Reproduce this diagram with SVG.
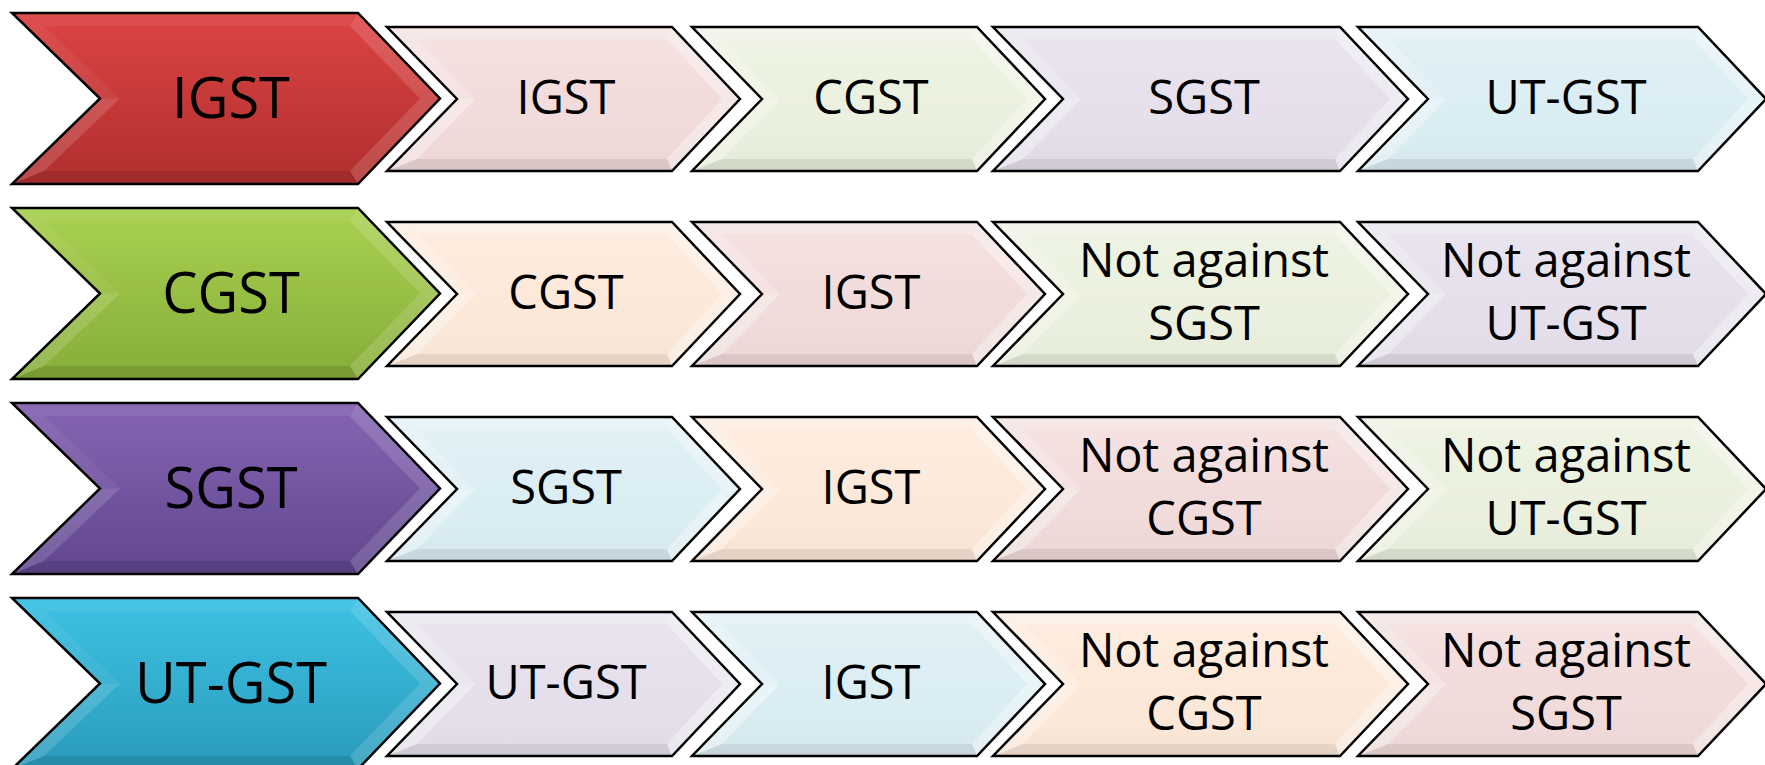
<svg xmlns="http://www.w3.org/2000/svg" xmlns:xlink="http://www.w3.org/1999/xlink" width="1765" height="765" viewBox="0 0 1765 765">
<style>
.edge{fill:none;stroke:#000;stroke-width:2.5;stroke-linejoin:miter}
.pink{fill:#F2DCDB}.green{fill:#EBF1DE}.lav{fill:#E5E0EC}.blue{fill:#DBEEF4}.peach{fill:#FDE9D9}
.lt1{fill:#fff;fill-opacity:.08}.lt2{fill:#fff;fill-opacity:.22}.lt3{fill:#fff;fill-opacity:.35}.dk{fill:#000;fill-opacity:.07}
.bl1{fill:#fff;fill-opacity:.06}.bl2{fill:#fff;fill-opacity:.14}.bdk{fill:#000;fill-opacity:.1}
.tb{font-family:'Open Sans','Noto Sans',sans-serif;font-size:56px;fill:#000;text-anchor:middle}
.ts{font-family:'Open Sans','Noto Sans',sans-serif;font-size:47px;fill:#000;text-anchor:middle}
</style>
<defs>
<linearGradient id="gRed" x1="0" y1="0" x2="0" y2="1"><stop offset="0" stop-color="#DC4443"/><stop offset="1" stop-color="#B02F2E"/></linearGradient>
<linearGradient id="gGreen" x1="0" y1="0" x2="0" y2="1"><stop offset="0" stop-color="#A9D150"/><stop offset="1" stop-color="#86AD38"/></linearGradient>
<linearGradient id="gPurple" x1="0" y1="0" x2="0" y2="1"><stop offset="0" stop-color="#8565B3"/><stop offset="1" stop-color="#61468E"/></linearGradient>
<linearGradient id="gCyan" x1="0" y1="0" x2="0" y2="1"><stop offset="0" stop-color="#3DC2E5"/><stop offset="1" stop-color="#2A9BBB"/></linearGradient>
<linearGradient id="gShade" x1="0" y1="0" x2="0" y2="1"><stop offset="0" stop-color="#fff" stop-opacity=".2"/><stop offset=".5" stop-color="#fff" stop-opacity="0"/><stop offset="1" stop-color="#000" stop-opacity=".03"/></linearGradient>
<!-- big chevron -->
<polygon id="B" points="0,0 346,0 428,85.5 346,171 0,171 88,85.5"/>
<g id="Bbev">
<polygon class="bl1" points="0,0 346,0 338,13 32,13"/>
<polygon class="bl2" points="346,0 428,85.5 408,85.5 338,13"/>
<polygon class="bl2" points="428,85.5 346,171 338,158 408,85.5"/>
<polygon class="bdk" points="346,171 0,171 32,158 338,158"/>
<polygon class="bl2" points="0,171 88,85.5 108,85.5 32,158"/>
<polygon class="bl1" points="88,85.5 0,0 32,13 108,85.5"/>
</g>
<!-- small chevrons -->
<polygon id="S1" points="0,0 285,0 353,72 285,144 0,144 70,72"/>
<g id="S1bev">
<polygon fill="url(#gShade)" points="0,0 285,0 353,72 285,144 0,144 70,72"/>
<polygon class="lt2" points="0,0 285,0 280,12 30,12"/>
<polygon class="lt3" points="285,0 353,72 335,72 280,12"/>
<polygon class="lt3" points="353,72 285,144 280,132 335,72"/>
<polygon class="dk" points="285,144 0,144 30,132 280,132"/>
<polygon class="lt3" points="0,144 70,72 88,72 30,132"/>
<polygon class="lt2" points="70,72 0,0 30,12 88,72"/>
</g>
<polygon id="S3" points="0,0 347,0 415,72 347,144 0,144 70,72"/>
<g id="S3bev">
<polygon fill="url(#gShade)" points="0,0 347,0 415,72 347,144 0,144 70,72"/>
<polygon class="lt2" points="0,0 347,0 342,12 30,12"/>
<polygon class="lt3" points="347,0 415,72 397,72 342,12"/>
<polygon class="lt3" points="415,72 347,144 342,132 397,72"/>
<polygon class="dk" points="347,144 0,144 30,132 342,132"/>
<polygon class="lt3" points="0,144 70,72 88,72 30,132"/>
<polygon class="lt2" points="70,72 0,0 30,12 88,72"/>
</g>
<polygon id="S4" points="0,0 340,0 408,72 340,144 0,144 70,72"/>
<g id="S4bev">
<polygon fill="url(#gShade)" points="0,0 340,0 408,72 340,144 0,144 70,72"/>
<polygon class="lt2" points="0,0 340,0 335,12 30,12"/>
<polygon class="lt3" points="340,0 408,72 390,72 335,12"/>
<polygon class="lt3" points="408,72 340,144 335,132 390,72"/>
<polygon class="dk" points="340,144 0,144 30,132 335,132"/>
<polygon class="lt3" points="0,144 70,72 88,72 30,132"/>
<polygon class="lt2" points="70,72 0,0 30,12 88,72"/>
</g>
</defs>
<rect width="1765" height="765" fill="#fff"/>
<g id="connectors"/>

<!-- Row 1 -->
<g id="r1-main"><use href="#B" x="12" y="13" fill="url(#gRed)"/><use href="#Bbev" x="12" y="13"/><use href="#B" x="12" y="13" class="edge"/><text class="tb" x="231" y="118">IGST</text></g>
<g id="r1-c1"><use href="#S1" x="387" y="27" class="pink"/><use href="#S1bev" x="387" y="27"/><use href="#S1" x="387" y="27" class="edge"/><text class="ts" x="566" y="114">IGST</text></g>
<g id="r1-c2"><use href="#S1" x="692" y="27" class="green"/><use href="#S1bev" x="692" y="27"/><use href="#S1" x="692" y="27" class="edge"/><text class="ts" x="871" y="114">CGST</text></g>
<g id="r1-c3"><use href="#S3" x="993" y="27" class="lav"/><use href="#S3bev" x="993" y="27"/><use href="#S3" x="993" y="27" class="edge"/><text class="ts" x="1204" y="114">SGST</text></g>
<g id="r1-c4"><use href="#S4" x="1358" y="27" class="blue"/><use href="#S4bev" x="1358" y="27"/><use href="#S4" x="1358" y="27" class="edge"/><text class="ts" x="1566" y="114">UT-GST</text></g>

<!-- Row 2 -->
<g id="r2-main"><use href="#B" x="12" y="208" fill="url(#gGreen)"/><use href="#Bbev" x="12" y="208"/><use href="#B" x="12" y="208" class="edge"/><text class="tb" x="231" y="313">CGST</text></g>
<g id="r2-c1"><use href="#S1" x="387" y="222" class="peach"/><use href="#S1bev" x="387" y="222"/><use href="#S1" x="387" y="222" class="edge"/><text class="ts" x="566" y="309">CGST</text></g>
<g id="r2-c2"><use href="#S1" x="692" y="222" class="pink"/><use href="#S1bev" x="692" y="222"/><use href="#S1" x="692" y="222" class="edge"/><text class="ts" x="871" y="309">IGST</text></g>
<g id="r2-c3"><use href="#S3" x="993" y="222" class="green"/><use href="#S3bev" x="993" y="222"/><use href="#S3" x="993" y="222" class="edge"/><text class="ts" x="1204" y="277">Not against</text><text class="ts" x="1204" y="340">SGST</text></g>
<g id="r2-c4"><use href="#S4" x="1358" y="222" class="lav"/><use href="#S4bev" x="1358" y="222"/><use href="#S4" x="1358" y="222" class="edge"/><text class="ts" x="1566" y="277">Not against</text><text class="ts" x="1566" y="340">UT-GST</text></g>

<!-- Row 3 -->
<g id="r3-main"><use href="#B" x="12" y="403" fill="url(#gPurple)"/><use href="#Bbev" x="12" y="403"/><use href="#B" x="12" y="403" class="edge"/><text class="tb" x="231" y="508">SGST</text></g>
<g id="r3-c1"><use href="#S1" x="387" y="417" class="blue"/><use href="#S1bev" x="387" y="417"/><use href="#S1" x="387" y="417" class="edge"/><text class="ts" x="566" y="504">SGST</text></g>
<g id="r3-c2"><use href="#S1" x="692" y="417" class="peach"/><use href="#S1bev" x="692" y="417"/><use href="#S1" x="692" y="417" class="edge"/><text class="ts" x="871" y="504">IGST</text></g>
<g id="r3-c3"><use href="#S3" x="993" y="417" class="pink"/><use href="#S3bev" x="993" y="417"/><use href="#S3" x="993" y="417" class="edge"/><text class="ts" x="1204" y="472">Not against</text><text class="ts" x="1204" y="535">CGST</text></g>
<g id="r3-c4"><use href="#S4" x="1358" y="417" class="green"/><use href="#S4bev" x="1358" y="417"/><use href="#S4" x="1358" y="417" class="edge"/><text class="ts" x="1566" y="472">Not against</text><text class="ts" x="1566" y="535">UT-GST</text></g>

<!-- Row 4 -->
<g id="r4-main"><use href="#B" x="12" y="598" fill="url(#gCyan)"/><use href="#Bbev" x="12" y="598"/><use href="#B" x="12" y="598" class="edge"/><text class="tb" x="231" y="703">UT-GST</text></g>
<g id="r4-c1"><use href="#S1" x="387" y="612" class="lav"/><use href="#S1bev" x="387" y="612"/><use href="#S1" x="387" y="612" class="edge"/><text class="ts" x="566" y="699">UT-GST</text></g>
<g id="r4-c2"><use href="#S1" x="692" y="612" class="blue"/><use href="#S1bev" x="692" y="612"/><use href="#S1" x="692" y="612" class="edge"/><text class="ts" x="871" y="699">IGST</text></g>
<g id="r4-c3"><use href="#S3" x="993" y="612" class="peach"/><use href="#S3bev" x="993" y="612"/><use href="#S3" x="993" y="612" class="edge"/><text class="ts" x="1204" y="667">Not against</text><text class="ts" x="1204" y="730">CGST</text></g>
<g id="r4-c4"><use href="#S4" x="1358" y="612" class="pink"/><use href="#S4bev" x="1358" y="612"/><use href="#S4" x="1358" y="612" class="edge"/><text class="ts" x="1566" y="667">Not against</text><text class="ts" x="1566" y="730">SGST</text></g>
</svg>
